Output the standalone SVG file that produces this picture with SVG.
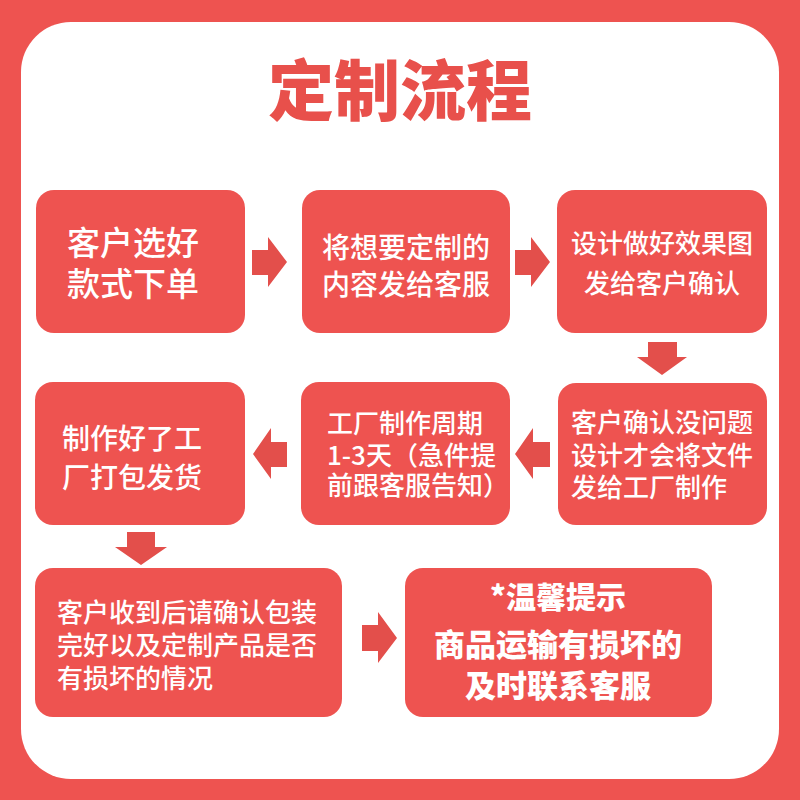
<svg xmlns="http://www.w3.org/2000/svg" width="800" height="800" viewBox="0 0 800 800">
<style>
.box{fill:#EE5350}
.arr{fill:#E34F4B}
.t{font-family:"Noto Sans CJK SC","Noto Sans",sans-serif;fill:#FFFFFF;font-weight:500}
.c{text-anchor:middle}
.b{font-weight:900}
</style>
<rect x="0" y="0" width="800" height="800" fill="#EE5350"/>
<rect x="21" y="22" width="758" height="757" rx="50" ry="50" fill="#FFFFFF"/>
<text x="400" y="115" class="c" font-family="Noto Sans CJK SC, sans-serif" font-weight="900" font-size="66" fill="#E8504B">定制流程</text>

<g id="n1"><rect class="box" x="36" y="190" width="209" height="143" rx="18"/>
<text class="t c" x="133" font-size="33"><tspan x="133" y="255">客户选好</tspan><tspan x="133" y="296">款式下单</tspan></text></g>
<g id="n2"><rect class="box" x="302" y="190" width="208" height="143" rx="18"/>
<text class="t c" font-size="28"><tspan x="406" y="258">将想要定制的</tspan><tspan x="406" y="295">内容发给客服</tspan></text></g>
<g id="n3"><rect class="box" x="557" y="190" width="210" height="143" rx="18"/>
<text class="t c" font-size="26"><tspan x="662" y="253">设计做好效果图</tspan><tspan x="662" y="293">发给客户确认</tspan></text></g>
<g id="n4"><rect class="box" x="35" y="382" width="210" height="143" rx="18"/>
<text class="t" font-size="28"><tspan x="62" y="449">制作好了工</tspan><tspan x="62" y="488">厂打包发货</tspan></text></g>
<g id="n5"><rect class="box" x="301" y="382" width="209" height="143" rx="18"/>
<text class="t" font-size="26"><tspan x="327" y="433">工厂制作周期</tspan><tspan x="327" y="465">1-3天（急件提</tspan><tspan x="327" y="495">前跟客服告知）</tspan></text></g>
<g id="n6"><rect class="box" x="558" y="383" width="209" height="142" rx="18"/>
<text class="t" font-size="26"><tspan x="571" y="432">客户确认没问题</tspan><tspan x="571" y="465">设计才会将文件</tspan><tspan x="571" y="497">发给工厂制作</tspan></text></g>
<g id="n7"><rect class="box" x="35" y="568" width="307" height="149" rx="18"/>
<text class="t" font-size="26"><tspan x="57" y="622">客户收到后请确认包装</tspan><tspan x="57" y="655">完好以及定制产品是否</tspan><tspan x="57" y="688">有损坏的情况</tspan></text></g>
<g id="n8"><rect class="box" x="405" y="568" width="307" height="149" rx="18"/>
<text class="t c b" font-size="31"><tspan x="558" y="608" font-size="30">*温馨提示</tspan><tspan x="558" y="656">商品运输有损坏的</tspan><tspan x="558" y="697">及时联系客服</tspan></text></g>

<g id="connectors">
<polygon class="arr" points="252,250 268,250 268,237 287,262 268,287 268,275 252,275"/>
<polygon class="arr" points="515,250 531,250 531,237 550,262 531,287 531,275 515,275"/>
<polygon class="arr" points="648,342 677,342 677,357 687,357 662,375 637,357 648,357"/>
<polygon class="arr" points="550,442 533,442 533,428 515,454 533,479 533,467 550,467"/>
<polygon class="arr" points="287,442 271,442 271,428 253,454 271,479 271,467 287,467"/>
<polygon class="arr" points="127,532 155,532 155,547 167,547 141,565 115,547 127,547"/>
<polygon class="arr" points="362,625 378,625 378,612 397,638 378,663 378,651 362,651"/>
</g>
</svg>
